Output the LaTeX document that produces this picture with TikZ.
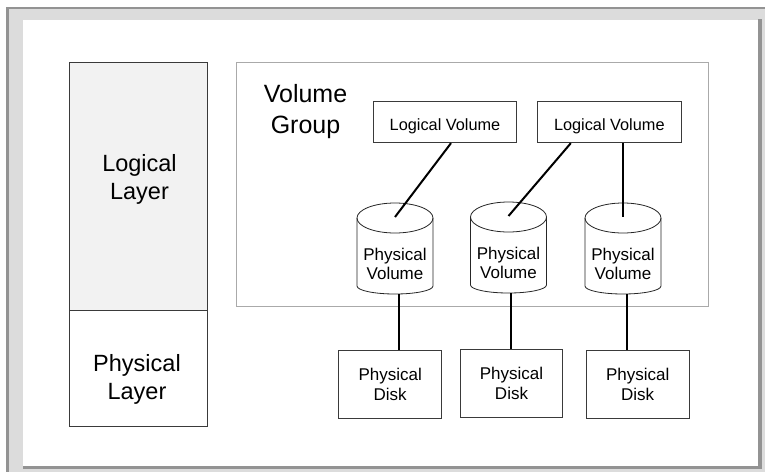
\documentclass[tikz,border=0pt]{standalone}
\usepackage{fontspec}
\setmainfont{Liberation Sans}
\definecolor{framelight}{HTML}{DCDCDC}
\definecolor{framedark}{HTML}{939393}
\definecolor{layerfill}{HTML}{F2F2F2}
\definecolor{boxline}{HTML}{3A3A3A}
\definecolor{vgline}{HTML}{AAAAAA}
\begin{document}
\begin{tikzpicture}[x=1pt,y=-1pt,
  box/.style={draw=boxline, line width=0.9pt, inner sep=0pt, align=center},
  layertext/.style={inner sep=0pt, align=center, font=\fontsize{23.5}{28}\selectfont},
  vgtext/.style={inner sep=0pt, align=center, font=\fontsize{25}{31}\selectfont},
  lvbox/.style={box, minimum width=143.4pt, minimum height=41pt, text height=17pt, text depth=0pt, font=\fontsize{16.3}{19}\selectfont},
  pdbox/.style={box, minimum width=103pt, minimum height=68.4pt, font=\fontsize{17}{19.4}\selectfont},
  link/.style={draw=black, line width=2pt},
  cylline/.style={draw=black!85, line width=0.8pt},
  pvcyl/.pic={
    \draw[cylline] (0,0) ellipse [x radius=38pt, y radius=15pt];
    \draw[cylline] (-38,0) -- (-38,68) arc [start angle=180, end angle=360, x radius=38pt, y radius=8pt] -- (38,0);
    \coordinate (-top) at (0,-1);
    \node[inner sep=0pt, align=center, font=\fontsize{17}{19}\selectfont] (-text) at (0,46) {Physical\\Volume};
  }]
\useasboundingbox (0,0) rectangle (765,472);
% frame
\fill[framelight] (6,7) rectangle (765,472);
\fill[framedark] (6,7) rectangle (765,9.3);
\fill[framedark] (6,7) rectangle (9,472);
\fill[white] (22.7,20) rectangle (758.3,466);
\fill[framedark] (22.7,466) rectangle (762.3,469.3);
\fill[framedark] (758.3,19.3) rectangle (762.3,469.3);
% layers
\node[box, fill=layerfill, minimum width=138.5pt, minimum height=247.7pt] (logic) at (138.25,186.15) {};
\node[box, fill=white, minimum width=138.5pt, minimum height=116.7pt] (phys) at (138.25,368.35) {};
\node[layertext] (logictext) at (139.5,179.5) {Logical\\Layer};
\node[layertext] (phystext) at (137,379) {Physical\\Layer};
% volume group
\node[draw=vgline, line width=0.9pt, minimum width=472.7pt, minimum height=244pt, inner sep=0pt] (vg) at (472.35,184.7) {};
\node[vgtext] (vgtext) at (305.5,112) {Volume\\Group};
% logical volumes
\node[lvbox] (lv1) at (445,122.2) {Logical Volume};
\node[lvbox] (lv2) at (609.3,122.2) {Logical Volume};
% physical volumes
\pic (pv1) at (395,218) {pvcyl};
\pic (pv2) at (508.5,217) {pvcyl};
\pic (pv3) at (623,218) {pvcyl};
% physical disks
\node[pdbox] (pd1) at (390.2,384.5) {Physical\\Disk};
\node[pdbox, minimum width=101.6pt] (pd2) at (511.5,383.5) {Physical\\Disk};
\node[pdbox, minimum width=103.3pt, minimum height=68.7pt] (pd3) at (637.7,384.3) {Physical\\Disk};
% connectors
\draw[link] ([xshift=6pt]lv1.south) -- (pv1-top);
\draw[link] ([xshift=-38.5pt]lv2.south) -- (pv2-top);
\draw[link] (lv2.south -| pv3-top) -- (pv3-top);
\coordinate (b1) at (399,294);
\coordinate (b2) at (510.7,293);
\coordinate (b3) at (627.3,294);
\draw[link] (b1) -- (b1 |- pd1.north);
\draw[link] (b2) -- (b2 |- pd2.north);
\draw[link] (b3) -- (b3 |- pd3.north);
\end{tikzpicture}
\end{document}
